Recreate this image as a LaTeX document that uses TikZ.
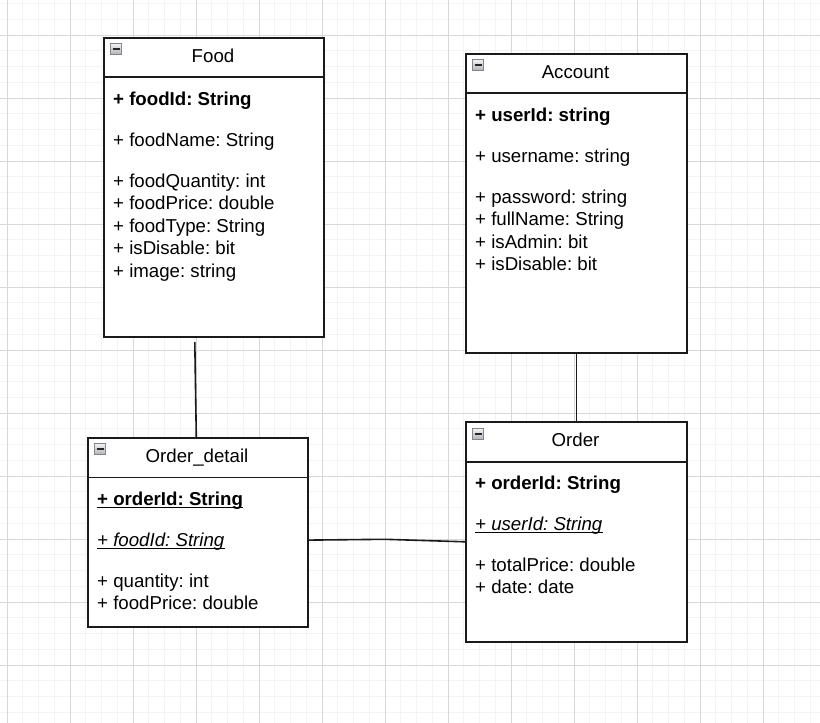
\documentclass[tikz,border=0pt]{standalone}
\usepackage{fontspec}
\setmainfont{Liberation Sans}
\usetikzlibrary{calc}
\frenchspacing
\definecolor{minorc}{HTML}{F3F3F3}
\definecolor{majorc}{HTML}{D8D8D8}
\definecolor{edgec}{HTML}{1A1A1A}
\definecolor{iconb}{HTML}{7F8690}
\tikzset{
  minorline/.style={draw=minorc, line width=1pt},
  majorline/.style={draw=majorc, line width=1pt},
  classbox/.style={draw=edgec, line width=1.6pt, fill=white, rectangle, inner sep=0pt, anchor=north west},
  headline/.style={draw=edgec, line width=1.4pt},
  titletext/.style={inner sep=0pt, anchor=base, font=\fontsize{18.67}{22.4}\selectfont},
  attr/.style={inner sep=0pt, anchor=base west, font=\fontsize{18.67}{22.4}\selectfont},
  uline/.style={draw=black, line width=1.2pt},
  conn/.style={draw=edgec, line width=1.6pt},
  iconbox/.style={draw=iconb, line width=1pt, top color=white!90!gray, bottom color=gray!60, minimum width=11pt, minimum height=11pt, inner sep=0pt},
  iconminus/.style={draw=black!85, line width=1.6pt}
}
\begin{document}
\begin{tikzpicture}[x=1pt,y=-1pt]
\useasboundingbox (0,0) rectangle (820,723);
\fill[white] (0,0) rectangle (820,723);
% grid
\foreach \i in {0,...,51} {
  \pgfmathsetmacro\xx{7+15.75*\i}
  \draw[minorline] (\xx,0) -- (\xx,723);
}
\foreach \j in {0,...,45} {
  \pgfmathsetmacro\yy{3.5+15.75*\j}
  \draw[minorline] (0,\yy) -- (820,\yy);
}
\foreach \i in {0,...,12} {
  \pgfmathsetmacro\xx{7+63*\i}
  \draw[majorline] (\xx,0) -- (\xx,723);
}
\foreach \j in {0,...,11} {
  \pgfmathsetmacro\yy{35+63*\j}
  \draw[majorline] (0,\yy) -- (820,\yy);
}

% ---------- Food ----------
\node[classbox, minimum width=220pt, minimum height=299pt] (food) at (103,37) {};
\draw[headline] ([yshift=-40pt]food.north west) -- ([yshift=-40pt]food.north east);
\node[iconbox] (foodicon) at (116,49) {};
\draw[iconminus] ([xshift=2.5pt]foodicon.west) -- ([xshift=-2.5pt]foodicon.east);
\node[titletext] (foodtitle) at (213,62.7) {Food};
\node[attr] (fa1) at (113,105.5) {\bfseries + foodId: String};
\node[attr] (fa2) at (113,146.5) {+ foodName: String};
\node[attr] (fa3) at (113,187.5) {+ foodQuantity: int};
\node[attr] (fa4) at (113,209.9) {+ foodPrice: double};
\node[attr] (fa5) at (113,232.3) {+ foodType: String};
\node[attr] (fa6) at (113,254.7) {+ isDisable: bit};
\node[attr] (fa7) at (113,277.1) {+ image: string};

% ---------- Account ----------
\node[classbox, minimum width=221pt, minimum height=299pt] (acc) at (465,53) {};
\draw[headline] ([yshift=-40pt]acc.north west) -- ([yshift=-40pt]acc.north east);
\node[iconbox] (accicon) at (478,65) {};
\draw[iconminus] ([xshift=2.5pt]accicon.west) -- ([xshift=-2.5pt]accicon.east);
\node[titletext] (acctitle) at (575.5,78.7) {Account};
\node[attr] (aa1) at (475,121.5) {\bfseries + userId: string};
\node[attr] (aa2) at (475,162.5) {+ username: string};
\node[attr] (aa3) at (475,203.5) {+ password: string};
\node[attr] (aa4) at (475,225.9) {+ fullName: String};
\node[attr] (aa5) at (475,248.3) {+ isAdmin: bit};
\node[attr] (aa6) at (475,270.7) {+ isDisable: bit};

% ---------- Order_detail ----------
\node[classbox, minimum width=220pt, minimum height=189pt] (od) at (87,437) {};
\draw[headline] ([yshift=-40.5pt]od.north west) -- ([yshift=-40.5pt]od.north east);
\node[iconbox] (odicon) at (100,449) {};
\draw[iconminus] ([xshift=2.5pt]odicon.west) -- ([xshift=-2.5pt]odicon.east);
\node[titletext] (odtitle) at (197,462.7) {Order\_detail};
\node[attr] (oda1) at (97,505.5) {\bfseries + orderId: String};
\draw[uline] ([yshift=-2pt]oda1.base west) -- ([yshift=-2pt]oda1.base east);
\node[attr] (oda2) at (97,546.5) {\itshape + foodId: String};
\draw[uline] ([yshift=-2pt]oda2.base west) -- ([yshift=-2pt]oda2.base east);
\node[attr] (oda3) at (97,587.5) {+ quantity: int};
\node[attr] (oda4) at (97,609.9) {+ foodPrice: double};

% ---------- Order ----------
\node[classbox, minimum width=221pt, minimum height=220pt] (ord) at (465,421) {};
\draw[headline] ([yshift=-41pt]ord.north west) -- ([yshift=-41pt]ord.north east);
\node[iconbox] (ordicon) at (478,434) {};
\draw[iconminus] ([xshift=2.5pt]ordicon.west) -- ([xshift=-2.5pt]ordicon.east);
\node[titletext] (ordtitle) at (575.5,446.7) {Order};
\node[attr] (ora1) at (475,489.5) {\bfseries + orderId: String};
\node[attr] (ora2) at (475,530.5) {\itshape + userId: String};
\draw[uline] ([yshift=-2pt]ora2.base west) -- ([yshift=-2pt]ora2.base east);
\node[attr] (ora3) at (475,571.5) {+ totalPrice: double};
\node[attr] (ora4) at (475,593.9) {+ date: date};

% ---------- connectors ----------
\coordinate (foodend) at (194.8,342);
\draw[conn] (foodend) -- ([xshift=-1.5pt]od.north);
\draw[conn] (acc.south) -- (ord.north);
\coordinate (mid) at (385,539.3);
\draw[conn] ([yshift=-7.8pt]od.east) -- (mid) -- ([yshift=-10pt]ord.west);
\end{tikzpicture}
\end{document}
